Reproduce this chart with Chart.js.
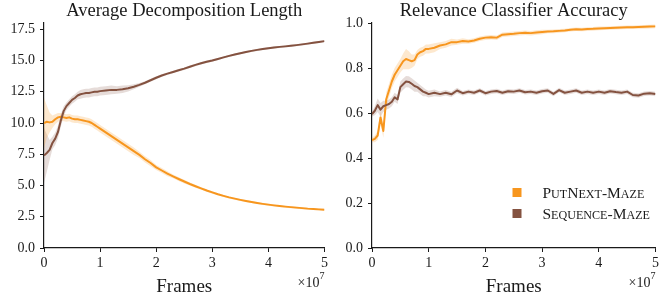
<!DOCTYPE html>
<html>
<head>
<meta charset="utf-8">
<script src="https://cdn.jsdelivr.net/npm/chart.js@4/dist/chart.umd.min.js"></script>
<style>
  body { margin: 0; background: #fff; }
  .wrap { display: flex; width: 662px; height: 298px; }
  canvas { display: block; }
</style>
</head>
<body>
<div class="wrap">
  <canvas id="left" width="331" height="298"></canvas>
  <canvas id="right" width="331" height="298"></canvas>
</div>
<script>
// frames, in units of 1e7
const frames = [0, 0.05, 0.1, 0.15, 0.2, 0.25, 0.3, 0.35, 0.4, 0.45, 0.5, 0.55, 0.6, 0.65, 0.7, 0.75, 0.8, 0.85, 0.9, 0.95, 1.0,
  1.1, 1.2, 1.3, 1.4, 1.5, 1.6, 1.7, 1.8, 1.9, 2.0,
  2.1, 2.2, 2.3, 2.4, 2.5, 2.6, 2.7, 2.8, 2.9, 3.0,
  3.1, 3.2, 3.3, 3.4, 3.5, 3.6, 3.7, 3.8, 3.9, 4.0,
  4.1, 4.2, 4.3, 4.4, 4.5, 4.6, 4.7, 4.8, 4.9, 5.0]

const seriesNames = ['PutNext-Maze', 'Sequence-Maze']
const xTicks = [0, 1, 2, 3, 4, 5]

// Average Decomposition Length
const lenTicks = [0, 2.5, 5, 7.5, 10, 12.5, 15, 17.5]
const lenPutNext = [10.0, 10.1, 10.05, 10.1, 10.3, 10.45, 10.5, 10.45, 10.4, 10.45, 10.35, 10.3, 10.3, 10.25, 10.2, 10.15, 10.1, 10.0, 9.85, 9.7, 9.55,
  9.25, 8.95, 8.65, 8.35, 8.05, 7.75, 7.45, 7.1, 6.8, 6.45,
  6.2, 5.95, 5.73, 5.52, 5.32, 5.12, 4.94, 4.77, 4.6, 4.45,
  4.3, 4.17, 4.05, 3.95, 3.85, 3.76, 3.68, 3.6, 3.53, 3.47,
  3.41, 3.36, 3.31, 3.27, 3.23, 3.19, 3.15, 3.12, 3.09, 3.06]
const lenPutNextSd = [2.0, 1.3, 0.8, 0.5, 0.4, 0.35, 0.3, 0.3, 0.3, 0.3, 0.3, 0.3, 0.3, 0.3, 0.3, 0.3, 0.3, 0.3, 0.3, 0.3, 0.3,
  0.3, 0.3, 0.3, 0.3, 0.3, 0.3, 0.25, 0.25, 0.25, 0.2,
  0.2, 0.2, 0.15, 0.15, 0.15, 0.12, 0.12, 0.1, 0.1, 0.1,
  0.08, 0.08, 0.08, 0.08, 0.08, 0.08, 0.08, 0.08, 0.08, 0.08,
  0.08, 0.08, 0.08, 0.08, 0.08, 0.08, 0.08, 0.08, 0.08, 0.08]
const lenSequence = [7.4, 7.6, 7.85, 8.4, 8.75, 9.3, 10.2, 10.95, 11.35, 11.6, 11.85, 12.0, 12.2, 12.3, 12.35, 12.4, 12.4, 12.45, 12.5, 12.5, 12.55,
  12.6, 12.65, 12.65, 12.7, 12.78, 12.9, 13.05, 13.22, 13.42, 13.62,
  13.8, 13.95, 14.08, 14.22, 14.35, 14.5, 14.65, 14.78, 14.9, 15.0,
  15.12, 15.25, 15.37, 15.48, 15.58, 15.68, 15.77, 15.85, 15.92, 15.98,
  16.04, 16.09, 16.13, 16.18, 16.23, 16.29, 16.35, 16.42, 16.48, 16.55]
const lenSequenceSd = [2.2, 1.5, 0.8, 0.5, 0.5, 0.5, 0.5, 0.4, 0.3, 0.3, 0.3, 0.3, 0.3, 0.35, 0.35, 0.35, 0.35, 0.35, 0.35, 0.35, 0.35,
  0.35, 0.35, 0.3, 0.3, 0.25, 0.2, 0.15, 0.12, 0.12, 0.12,
  0.1, 0.1, 0.1, 0.1, 0.1, 0.1, 0.1, 0.1, 0.1, 0.1,
  0.08, 0.08, 0.08, 0.08, 0.08, 0.08, 0.08, 0.08, 0.08, 0.08,
  0.08, 0.08, 0.08, 0.08, 0.08, 0.08, 0.08, 0.08, 0.08, 0.08]

// Relevance Classifier Accuracy
const accTicks = [0, 0.2, 0.4, 0.6, 0.8, 1.0]
const accPutNext = [0.48, 0.485, 0.5, 0.58, 0.52, 0.66, 0.7, 0.74, 0.77, 0.79, 0.81, 0.83, 0.84, 0.835, 0.83, 0.835, 0.86, 0.87, 0.875, 0.885, 0.885,
  0.89, 0.9, 0.905, 0.915, 0.915, 0.92, 0.918, 0.922, 0.93, 0.935,
  0.937, 0.935, 0.948, 0.95, 0.952, 0.955, 0.957, 0.955, 0.958, 0.96,
  0.962, 0.963, 0.965, 0.967, 0.97, 0.972, 0.971, 0.973, 0.974, 0.976,
  0.977, 0.978, 0.979, 0.98, 0.981, 0.981, 0.982, 0.983, 0.984, 0.985]
const accPutNextSd = [0.01, 0.015, 0.02, 0.03, 0.03, 0.03, 0.03, 0.03, 0.03, 0.03, 0.03, 0.035, 0.045, 0.04, 0.03, 0.025, 0.02, 0.02, 0.02, 0.02, 0.02,
  0.02, 0.015, 0.015, 0.015, 0.012, 0.012, 0.01, 0.01, 0.01, 0.01,
  0.01, 0.01, 0.01, 0.01, 0.01, 0.01, 0.01, 0.01, 0.01, 0.01,
  0.008, 0.008, 0.008, 0.008, 0.008, 0.008, 0.008, 0.008, 0.008, 0.008,
  0.008, 0.008, 0.008, 0.008, 0.008, 0.008, 0.008, 0.008, 0.008, 0.008]
const accSequence = [0.595, 0.61, 0.635, 0.615, 0.63, 0.635, 0.64, 0.65, 0.67, 0.66, 0.715, 0.728, 0.74, 0.738, 0.73, 0.72, 0.715, 0.705, 0.695, 0.69, 0.684,
  0.69, 0.684, 0.69, 0.683, 0.7, 0.688, 0.695, 0.69, 0.7, 0.688,
  0.695, 0.698, 0.69, 0.697, 0.695, 0.7, 0.692, 0.695, 0.69, 0.697,
  0.7, 0.685, 0.702, 0.69, 0.695, 0.7, 0.69, 0.695, 0.69, 0.695,
  0.69, 0.697, 0.693, 0.69, 0.695, 0.68, 0.678, 0.686, 0.688, 0.684]
const accSequenceSd = [0.01, 0.02, 0.03, 0.03, 0.025, 0.02, 0.02, 0.02, 0.02, 0.02, 0.025, 0.025, 0.025, 0.025, 0.025, 0.025, 0.02, 0.02, 0.02, 0.015, 0.015,
  0.015, 0.012, 0.012, 0.012, 0.012, 0.01, 0.01, 0.01, 0.01, 0.01,
  0.01, 0.01, 0.01, 0.01, 0.01, 0.01, 0.01, 0.01, 0.01, 0.01,
  0.01, 0.01, 0.01, 0.01, 0.01, 0.01, 0.01, 0.01, 0.01, 0.01,
  0.01, 0.01, 0.01, 0.01, 0.01, 0.01, 0.01, 0.01, 0.01, 0.01]

const SERIF = "'Liberation Serif', 'DejaVu Serif', serif"
const INK = '#1a1a1a'
const ORANGE = '#f7961e'
const BROWN = '#845240'
const ORANGE_BAND = 'rgba(247, 150, 30, 0.22)'
const BROWN_BAND = 'rgba(132, 82, 64, 0.2)'
const NONE = 'rgba(0,0,0,0)'

const line = (mean) => frames.map((f, i) => ({ x: f, y: mean[i] }))
const band = (mean, sd, sign) => frames.map((f, i) => ({ x: f, y: mean[i] + sign * sd[i] }))

// fake small caps: lowercase letters drawn as smaller capitals
const drawSmallCaps = (ctx, text, x, y, size) => {
  for (const ch of text) {
    const lower = ch !== ch.toUpperCase()
    const c = ch.toUpperCase()
    ctx.font = `${lower ? size * 0.78 : size}px ${SERIF}`
    ctx.fillText(c, x, y)
    x += ctx.measureText(c).width
  }
}

// title over the plot area, x10^7 offset label, and the in-plot legend
const extras = {
  id: 'extras',
  afterDraw(chart, args, opts) {
    const { ctx, chartArea } = chart
    ctx.save()
    ctx.fillStyle = INK
    ctx.textBaseline = 'alphabetic'

    ctx.textAlign = 'center'
    ctx.font = `18.5px ${SERIF}`
    ctx.fillText(opts.title, (chartArea.left + chartArea.right) / 2, 16)

    ctx.textAlign = 'right'
    ctx.font = `10px ${SERIF}`
    ctx.fillText('7', chartArea.right, chartArea.bottom + 31)
    const supW = ctx.measureText('7').width
    ctx.font = `14px ${SERIF}`
    ctx.fillText('\u00d710', chartArea.right - supW, chartArea.bottom + 39)

    if (opts.legend) {
      ctx.textAlign = 'left'
      const colors = [ORANGE, BROWN]
      seriesNames.forEach((name, i) => {
        const y0 = chartArea.bottom - 60 + i * 21
        ctx.fillStyle = colors[i]
        ctx.fillRect(chartArea.right - 143, y0, 9, 9)
        ctx.fillStyle = INK
        drawSmallCaps(ctx, name, chartArea.right - 113, y0 + 9.5, 15.5)
      })
    }
    ctx.restore()
  }
}

const setupChart = (el, cfg) => {
  const datasets = [
    { label: seriesNames[1], data: line(cfg.sequence), borderColor: BROWN, borderWidth: 2 },
    { label: seriesNames[0], data: line(cfg.putNext), borderColor: ORANGE, borderWidth: 2 },
    { data: band(cfg.putNext, cfg.putNextSd, 1), borderColor: NONE, backgroundColor: ORANGE_BAND, fill: '+1' },
    { data: band(cfg.putNext, cfg.putNextSd, -1), borderColor: NONE, fill: false },
    { data: band(cfg.sequence, cfg.sequenceSd, 1), borderColor: NONE, backgroundColor: BROWN_BAND, fill: '+1' },
    { data: band(cfg.sequence, cfg.sequenceSd, -1), borderColor: NONE, fill: false }
  ]

  return new Chart(el, {
    type: 'line',
    data: { datasets },
    plugins: [extras],
    options: {
      responsive: false,
      animation: false,
      layout: { padding: { left: 0, right: cfg.padRight, top: 23, bottom: 0 } },
      elements: { point: { radius: 0 }, line: { tension: 0, borderJoinStyle: 'round' } },
      plugins: {
        legend: { display: false },
        tooltip: { enabled: false },
        title: { display: false },
        extras: { legend: cfg.legend, title: cfg.title }
      },
      scales: {
        x: {
          type: 'linear',
          min: 0,
          max: 5,
          afterBuildTicks: s => { s.ticks = xTicks.map(v => ({ value: v })) },
          afterFit: s => { s.height = 50 },
          ticks: { color: INK, font: { family: SERIF, size: 14 }, padding: 3, maxRotation: 0 },
          grid: { drawOnChartArea: false, tickLength: 4, tickColor: INK },
          border: { color: INK, width: 1.2 },
          title: {
            display: true,
            text: 'Frames',
            color: INK,
            font: { family: SERIF, size: 19 },
            padding: { top: 0, bottom: 0 }
          }
        },
        y: {
          min: 0,
          max: cfg.yMax,
          afterBuildTicks: s => { s.ticks = cfg.yTicks.map(v => ({ value: v })) },
          afterFit: s => { s.width = cfg.yWidth },
          ticks: { color: INK, font: { family: SERIF, size: 14 }, padding: 5, callback: v => v.toFixed(1) },
          grid: { drawOnChartArea: false, tickLength: 4, tickColor: INK },
          border: { color: INK, width: 1.2 }
        }
      }
    }
  })
}

setupChart(document.getElementById('left'), {
  title: 'Average Decomposition Length',
  putNext: lenPutNext, putNextSd: lenPutNextSd,
  sequence: lenSequence, sequenceSd: lenSequenceSd,
  yTicks: lenTicks, yMax: 18, yWidth: 44, padRight: 3, legend: false
})

setupChart(document.getElementById('right'), {
  title: 'Relevance Classifier Accuracy',
  putNext: accPutNext, putNextSd: accPutNextSd,
  sequence: accSequence, sequenceSd: accSequenceSd,
  yTicks: accTicks, yMax: 1.0, yWidth: 41, padRight: 6, legend: true
})
</script>
</body>
</html>
